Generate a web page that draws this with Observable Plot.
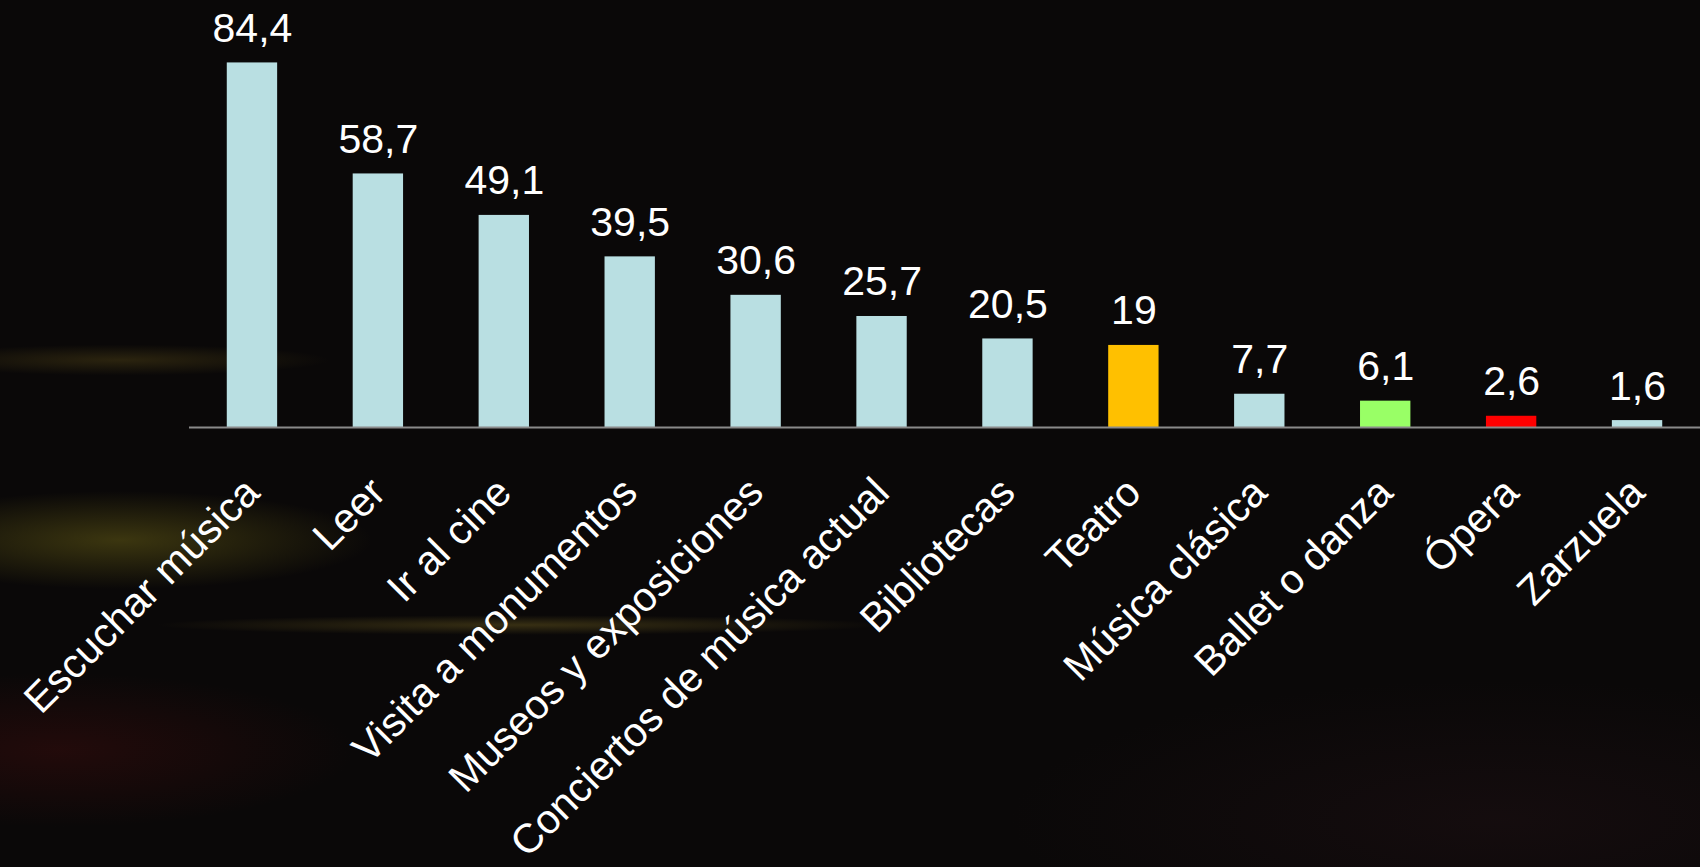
<!DOCTYPE html>
<html>
<head>
<meta charset="utf-8">
<script src="https://cdn.jsdelivr.net/npm/d3@7"></script>
<script src="https://cdn.jsdelivr.net/npm/@observablehq/plot@0.6"></script>
<style>
  html, body { margin: 0; padding: 0; }
  body {
    width: 1700px; height: 867px; overflow: hidden;
    background-color: #0a0808;
    background-image:
      radial-gradient(ellipse 360px 70px at 120px 540px, rgba(120,110,25,0.45), rgba(0,0,0,0) 70%),
      radial-gradient(ellipse 520px 14px at 520px 625px, rgba(140,120,40,0.35), rgba(0,0,0,0) 70%),
      radial-gradient(ellipse 300px 22px at 120px 360px, rgba(120,100,30,0.30), rgba(0,0,0,0) 70%),
      radial-gradient(ellipse 420px 110px at 60px 750px, rgba(80,15,15,0.35), rgba(0,0,0,0) 70%),
      radial-gradient(ellipse 700px 200px at 1500px 820px, rgba(40,20,25,0.35), rgba(0,0,0,0) 70%);
    font-family: "Liberation Sans", Arial, sans-serif;
  }
  #chart { position: absolute; left: 0; top: 0; }
  svg { overflow: visible; }
</style>
</head>
<body>
<div id="chart"></div>
<script>
const categories = ["Escuchar música", "Leer", "Ir al cine", "Visita a monumentos", "Museos y exposiciones", "Conciertos de música actual", "Bibliotecas", "Teatro", "Música clásica", "Ballet o danza", "Ópera", "Zarzuela"];
const values = [84.4, 58.7, 49.1, 39.5, 30.6, 25.7, 20.5, 19, 7.7, 6.1, 2.6, 1.6];
const barColors = ["#b9dfe2", "#b9dfe2", "#b9dfe2", "#b9dfe2", "#b9dfe2", "#b9dfe2", "#b9dfe2", "#ffc000", "#b9dfe2", "#99ff66", "#ff0000", "#b9dfe2"];

const data = categories.map((c, i) => ({cat: c, value: values[i], color: barColors[i]}));
const fmt = v => String(v).replace(".", ",");

const chart = Plot.plot({
  width: 1700,
  height: 867,
  marginLeft: 189,
  marginRight: 0,
  marginTop: 8,
  marginBottom: 440,
  style: {background: "transparent", color: "white", fontFamily: "'Liberation Sans', Arial, sans-serif", overflow: "visible"},
  x: {domain: categories, paddingInner: 0.6, paddingOuter: 0.3, round: false, label: null},
  y: {domain: [0, 97], axis: null},
  marks: [
    Plot.barY(data, {x: "cat", y: "value", fill: "color"}),
    Plot.ruleY([0], {stroke: "#8a8a8a", strokeWidth: 2}),
    Plot.text(data, {x: "cat", y: "value", text: d => fmt(d.value), lineAnchor: "bottom", dy: -21, fill: "white", fontSize: 41}),
    Plot.axisX({tickSize: 0, tickPadding: 58, tickRotate: -45, fontSize: 41, fill: "white", label: null})
  ]
});
document.getElementById("chart").appendChild(chart);
</script>
</body>
</html>
